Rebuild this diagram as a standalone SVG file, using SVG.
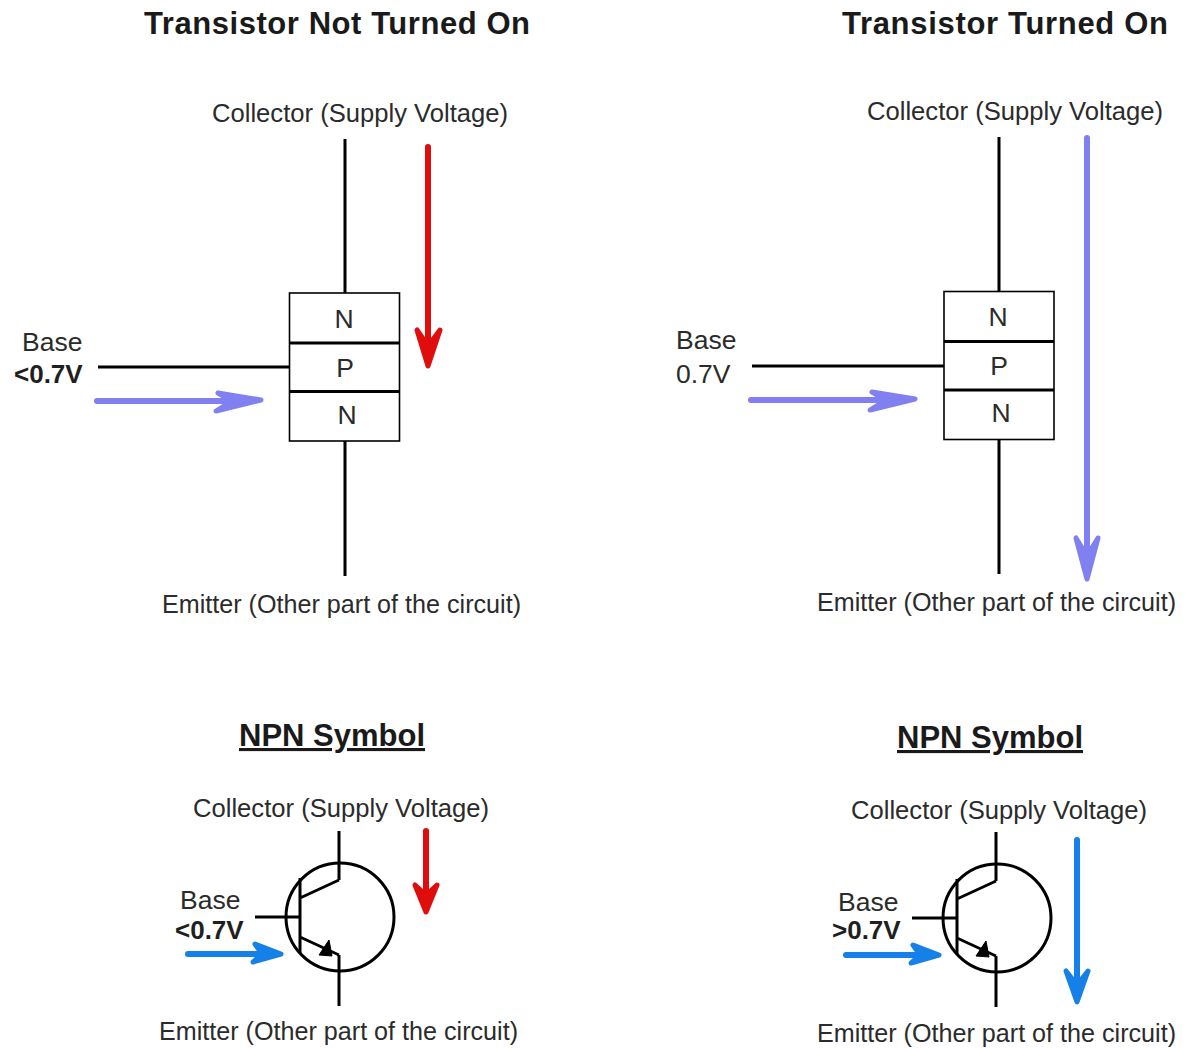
<svg xmlns="http://www.w3.org/2000/svg" width="1185" height="1048" viewBox="0 0 1185 1048">
<style>
text{font-family:"Liberation Sans",Arial,sans-serif;fill:#2b2b2b;font-size:26.5px}
.t{font-weight:bold;font-size:31px;fill:#1a1a1a}
.u{font-weight:bold;font-size:31px;fill:#1a1a1a;text-decoration:underline}
.v{font-weight:bold;font-size:26px;fill:#1f1f1f}
.l{stroke:#000;stroke-width:3;fill:none}
.b{stroke:#000;stroke-width:1.6;fill:#fff}
.a{fill:none;stroke-width:6;stroke-linecap:round;stroke-linejoin:round}
.h{stroke-width:5;stroke-linecap:round;stroke-linejoin:round}
.red{stroke:#e00d0d}.pur{stroke:#8080f0}.blu{stroke:#1580e8}
.h.red{fill:#e00d0d}.h.pur{fill:#8080f0}.h.blu{fill:#1580e8}
</style>
<rect width="1185" height="1048" fill="#fff"/>
<g id="titles">
<text class="t" x="144" y="34" textLength="386">Transistor Not Turned On</text>
<text class="t" x="842" y="34" textLength="326">Transistor Turned On</text>
<text class="u" x="239" y="746">NPN Symbol</text>
<text class="u" x="897" y="748">NPN Symbol</text>
</g>
<g id="connectors">
<path class="l" d="M345 139V293M345 441V576M98 367H290"/>
<path class="l" d="M999 137V291M999 439V574M752 366H944"/>
<path class="l" d="M255 917H300M339 831V880M339 955V1006"/>
<path class="l" d="M912 918H957M996 832V881M996 956V1007"/>
<path class="a red" d="M428 147V340"/><path class="h red" d="M417 330L428 366L440 330L428 346Z"/>
<path class="a pur" d="M97 401H230"/><path class="h pur" d="M218 393L261 400L216 411L232 401Z"/>
<path class="a pur" d="M751 400H884"/><path class="h pur" d="M872 392L915 399L870 410L886 400Z"/>
<path class="a pur" d="M1087 138V550"/><path class="h pur" d="M1076 538L1087 579L1098 538L1087 556Z"/>
<path class="a red" d="M426 831V890"/><path class="h red" d="M415 885L426 912L437 885L426 895Z"/>
<path class="a blu" d="M188 954H260"/><path class="h blu" d="M255 944L281 954L253 962L262 954Z"/>
<path class="a blu" d="M846 955H918"/><path class="h blu" d="M913 945L939 955L911 963L920 955Z"/>
<path class="a blu" d="M1077 840V980"/><path class="h blu" d="M1066 971L1077 1002L1088 971L1077 985Z"/>
</g>
<g id="npn-left">
<rect class="b" x="289.500" y="293" width="110" height="148"/>
<path class="l" d="M290 343H399M290 391.500H399"/>
<text x="344" y="328" text-anchor="middle">N</text>
<text x="345" y="377" text-anchor="middle">P</text>
<text x="347" y="424" text-anchor="middle">N</text>
</g>
<g id="npn-right">
<rect class="b" x="944" y="291.500" width="110" height="148"/>
<path class="l" d="M944 341.500H1054M944 390H1054"/>
<text x="998" y="326" text-anchor="middle">N</text>
<text x="999" y="375" text-anchor="middle">P</text>
<text x="1001" y="422" text-anchor="middle">N</text>
</g>
<g id="symbol-left">
<circle class="l" cx="340" cy="917" r="54"/>
<path class="l" d="M300 878V953M339 880L300 898M300 937L339 955"/>
<path d="M319 955L332 956L329 940Z" fill="#000" stroke="#000" stroke-width="1"/>
</g>
<g id="symbol-right">
<circle class="l" cx="997" cy="918" r="54"/>
<path class="l" d="M957 879V954M996 881L957 899M957 938L996 956"/>
<path d="M976 956L989 957L986 941Z" fill="#000" stroke="#000" stroke-width="1"/>
</g>
<g id="labels">
<text x="212" y="122" textLength="296" lengthAdjust="spacingAndGlyphs">Collector (Supply Voltage)</text>
<text x="867" y="120" textLength="296" lengthAdjust="spacingAndGlyphs">Collector (Supply Voltage)</text>
<text x="162" y="613" textLength="359" lengthAdjust="spacingAndGlyphs">Emitter (Other part of the circuit)</text>
<text x="817" y="611" textLength="359" lengthAdjust="spacingAndGlyphs">Emitter (Other part of the circuit)</text>
<text x="193" y="817" textLength="296" lengthAdjust="spacingAndGlyphs">Collector (Supply Voltage)</text>
<text x="851" y="819" textLength="296" lengthAdjust="spacingAndGlyphs">Collector (Supply Voltage)</text>
<text x="159" y="1040" textLength="359" lengthAdjust="spacingAndGlyphs">Emitter (Other part of the circuit)</text>
<text x="817" y="1042" textLength="359" lengthAdjust="spacingAndGlyphs">Emitter (Other part of the circuit)</text>
<text x="22" y="351">Base</text>
<text class="v" x="14" y="383">&lt;0.7V</text>
<text x="676" y="349">Base</text>
<text x="676" y="383">0.7V</text>
<text x="180" y="909">Base</text>
<text class="v" x="175" y="939">&lt;0.7V</text>
<text x="838" y="911">Base</text>
<text class="v" x="832" y="939">&gt;0.7V</text>
</g>
</svg>
